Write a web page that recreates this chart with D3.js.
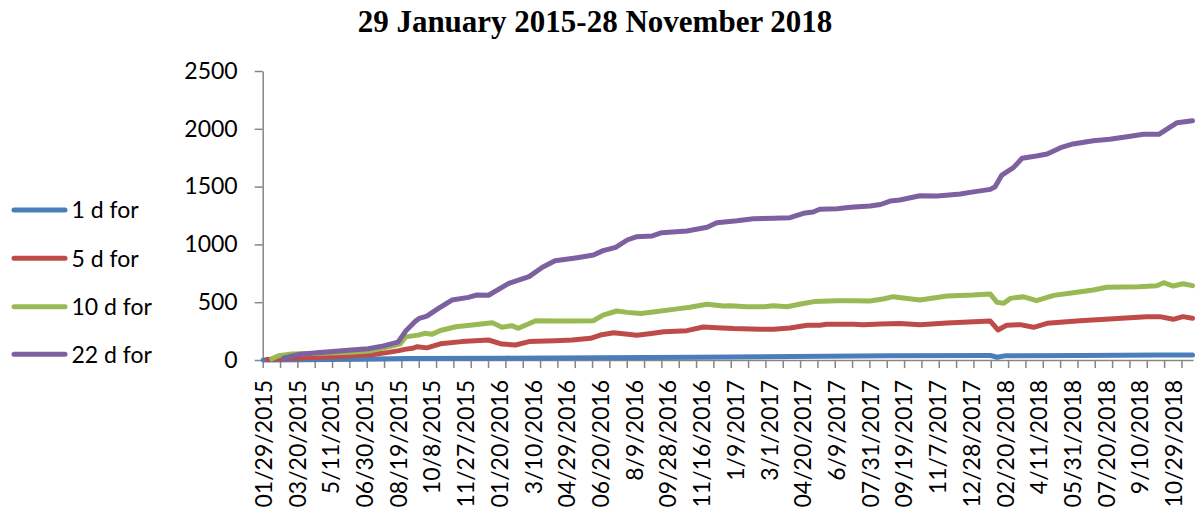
<!DOCTYPE html>
<html>
<head>
<meta charset="utf-8">
<script src="https://cdn.jsdelivr.net/npm/d3@7"></script>
<style>
  html, body { margin: 0; padding: 0; background: #fff; }
  svg { display: block; }
</style>
</head>
<body>
<svg id="chart" width="1204" height="509"></svg>
<script>
// ---- data ----
const title = "29 January 2015-28 November 2018";
const xLabels = ["01/29/2015","03/20/2015","5/11/2015","06/30/2015","08/19/2015","10/8/2015","11/27/2015",
  "01/20/2016","3/10/2016","04/29/2016","06/20/2016","8/9/2016","09/28/2016","11/16/2016","1/9/2017",
  "3/1/2017","04/20/2017","6/9/2017","07/31/2017","09/19/2017","11/7/2017","12/28/2017","02/20/2018",
  "4/11/2018","05/31/2018","07/20/2018","9/10/2018","10/29/2018"];
const nDays = 966;        // trading days in the sample
const labelEvery = 35;    // one category label every 35 trading days
const tickEvery = 18;     // one tick mark every 18 trading days
const yTicks = [0, 500, 1000, 1500, 2000, 2500];
const seriesNames = ["1 d for", "5 d for", "10 d for", "22 d for"];
const seriesColors = ["#4a7ebb", "#be4b48", "#98b954", "#7d60a0"];

// [trading-day index, cumulative value]
const d1 = [[0,0],[40,2],[100,6],[150,12],[250,16],[350,20],[450,24],[550,30],[650,36],[755,40],
  [762,24],[770,36],[850,40],[930,44],[965,44]];
const d5 = [[4,5],[30,14],[80,30],[114,48],[130,66],[141,81],[147,92],[155,101],[160,115],[170,105],
  [184,140],[206,159],[234,173],[248,138],[262,130],[276,159],[303,167],[321,173],[340,188],[350,216],
  [364,236],[388,214],[405,232],[416,245],[440,254],[457,285],[471,280],[488,272],[516,266],[530,267],
  [547,277],[565,300],[578,300],[585,309],[613,309],[623,305],[641,312],[661,315],[682,305],[710,320],
  [755,337],[763,260],[772,300],[786,306],[800,283],[814,317],[848,340],[883,357],[917,375],[931,375],
  [945,352],[955,375],[965,361]];
const d10 = [[9,10],[16,37],[30,52],[61,58],[92,66],[110,78],[130,115],[142,137],[148,200],[161,215],
  [168,231],[175,222],[184,255],[200,288],[217,303],[238,323],[248,283],[258,297],[265,274],[283,340],
  [303,337],[321,337],[343,340],[353,389],[367,424],[378,412],[392,402],[405,415],[426,438],[443,456],
  [461,482],[478,467],[485,470],[502,461],[520,461],[530,470],[544,461],[558,484],[572,505],[596,513],
  [613,513],[630,510],[645,530],[654,548],[682,519],[710,554],[737,562],[755,571],[762,499],[769,490],
  [776,533],[789,548],[803,513],[821,559],[841,582],[862,606],[876,629],[910,634],[928,643],[935,669],
  [945,640],[955,660],[965,643]];
const d22 = [[21,15],[38,50],[62,68],[95,88],[109,98],[125,122],[140,155],[148,250],[158,335],[162,360],
  [170,380],[182,447],[196,519],[213,542],[222,562],[234,560],[255,663],[276,721],[290,802],[303,859],
  [309,865],[326,885],[343,908],[353,946],[366,975],[378,1038],[388,1067],[404,1073],[414,1101],[440,1116],
  [461,1148],[471,1188],[492,1205],[509,1222],[530,1226],[547,1231],[561,1269],[571,1280],[578,1304],
  [596,1309],[610,1321],[630,1332],[641,1345],[651,1375],[661,1384],[682,1421],[700,1419],[724,1436],
  [734,1450],[755,1476],[760,1499],[767,1600],[779,1664],[788,1745],[803,1765],[814,1782],[828,1837],
  [841,1869],[862,1897],[879,1909],[897,1932],[914,1952],[930,1952],[949,2053],[965,2070]];
const seriesData = [d1, d5, d10, d22];

// ---- layout ----
const svg = d3.select("#chart");
const plotL = 262.7, plotR = 1193, plotT = 71, plotB = 360;
const axisColor = "#868686";
const font = "Lato, 'Open Sans', sans-serif";

const x = d3.scaleLinear().domain([0, nDays]).range([plotL, plotR]);
const y = d3.scaleLinear().domain([0, 2500]).range([plotB, plotT]);

// title
svg.append("text")
  .attr("x", 595).attr("y", 32)
  .attr("text-anchor", "middle")
  .style("font-family", "'Liberation Serif', 'Times New Roman', serif")
  .style("font-weight", "bold")
  .style("font-size", "31px")
  .text(title);

// y axis
const yAxis = svg.append("g")
  .attr("transform", `translate(${plotL},0)`)
  .call(d3.axisLeft(y).tickValues(yTicks).tickSize(8).tickSizeOuter(0).tickPadding(17).tickFormat(d3.format("d")));
yAxis.select(".domain").attr("stroke", axisColor).attr("stroke-width", 1.5);
yAxis.selectAll(".tick line").attr("stroke", axisColor).attr("stroke-width", 1.5);
yAxis.selectAll(".tick text").style("font-family", font).style("font-size", "23px").attr("fill", "#000");

// x axis ticks
const xAxis = svg.append("g")
  .attr("transform", `translate(0,${plotB})`)
  .call(d3.axisBottom(x).tickValues(d3.range(0, nDays - 1, tickEvery)).tickSize(8).tickSizeOuter(0).tickFormat(""));
xAxis.select(".domain").attr("stroke", axisColor).attr("stroke-width", 1.5);
xAxis.selectAll(".tick line").attr("stroke", axisColor).attr("stroke-width", 1.5);

// x labels
const labelPos = xLabels.map((d, i) => i * labelEvery + 0.5);
const xLab = svg.append("g")
  .attr("transform", `translate(0,${plotB})`)
  .call(d3.axisBottom(x).tickValues(labelPos).tickSize(0)
    .tickFormat((d, i) => xLabels[i]));
xLab.select(".domain").remove();
xLab.selectAll(".tick text")
  .attr("transform", "rotate(-90)")
  .attr("x", -20).attr("y", 0).attr("dy", "0.36em")
  .attr("text-anchor", "end")
  .style("font-family", font).style("font-size", "23px").attr("fill", "#000");

// lines
const line = d3.line().x(d => x(d[0] + 0.5)).y(d => y(d[1]));
seriesData.forEach((data, k) => {
  svg.append("path")
    .datum(data)
    .attr("d", line)
    .attr("fill", "none")
    .attr("stroke", seriesColors[k])
    .attr("stroke-width", 5)
    .attr("stroke-linejoin", "round")
    .attr("stroke-linecap", "round");
});

// legend
const legendY = [210, 258.3, 306.7, 354.3];
const leg = svg.append("g");
seriesNames.forEach((name, k) => {
  leg.append("line")
    .attr("x1", 14).attr("x2", 65)
    .attr("y1", legendY[k]).attr("y2", legendY[k])
    .attr("stroke", seriesColors[k]).attr("stroke-width", 5).attr("stroke-linecap", "round");
  leg.append("text")
    .attr("x", 71.5).attr("y", legendY[k]).attr("dy", "0.36em")
    .style("font-family", font).style("font-size", "23px")
    .text(name);
});
</script>
</body>
</html>
